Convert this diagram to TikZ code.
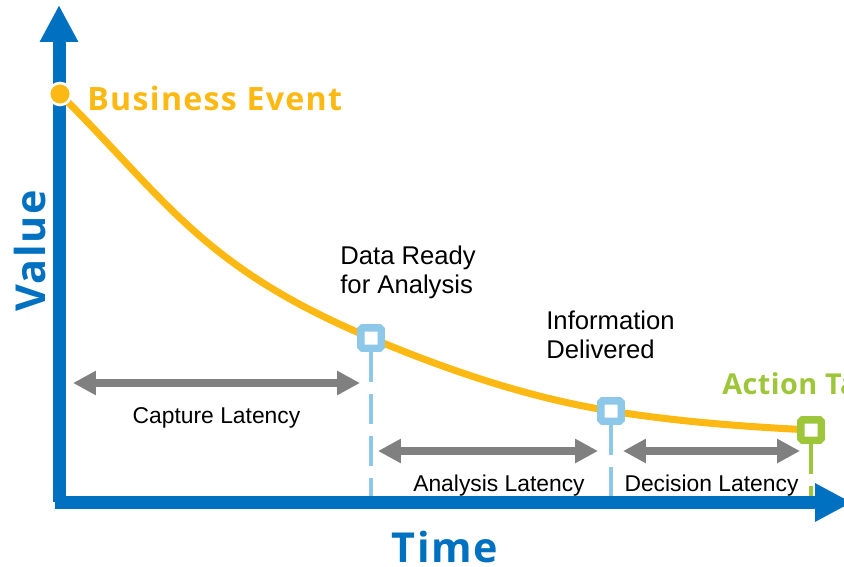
\documentclass[tikz,border=0pt]{standalone}
\usepackage{fontspec}
\setmainfont{Liberation Sans}
\newfontfamily\headfont{Open Sans}[LetterSpace=4]
\usetikzlibrary{arrows.meta}

\definecolor{axisblue}{RGB}{0,112,192}
\definecolor{valueorange}{RGB}{253,185,19}
\definecolor{stepblue}{RGB}{141,200,232}
\definecolor{stepgreen}{RGB}{157,198,58}
\definecolor{spangray}{RGB}{128,128,128}

\begin{document}
\begin{tikzpicture}[x=0.02cm,y=-0.02cm,
    axis/.style={axisblue,line width=7.4pt,-{Triangle[length=21pt,width=20.4pt]}},
    latency/.style={spangray,line width=4.5pt,
        {Triangle[length=13pt,width=13pt]}-{Triangle[length=13pt,width=13pt]}},
    stepbox/.style={draw=#1,fill=white,line width=4.2pt,minimum size=11.6pt,
        inner sep=0pt,rounded corners=1pt},
    dropline/.style={#1,line width=2.3pt,dash pattern=on 17pt off 6.8pt},
    spanlabel/.style={text=black,font=\fontsize{13}{15}\selectfont,below=11.5pt,inner sep=0pt},
    milestone/.style={font=\fontsize{14.6}{16.4}\selectfont,align=left,
        anchor=north west,inner sep=0pt},
    headline/.style={font=\headfont\bfseries\fontsize{#1}{#1}\selectfont,inner sep=0pt}]
    \useasboundingbox (0,0) rectangle (844,567);

    \coordinate (origin) at (59,502);
    \coordinate (top) at (59,5);
    \coordinate (right) at (852,502.5);
    \coordinate (event) at (60,94);
    \coordinate (ready) at (371,338);
    \coordinate (delivered) at (611,411);
    \coordinate (action) at (811,430);

    % drop lines from the milestones to the time axis
    \draw [dropline=stepblue]  ([yshift=-8pt]ready) -- (ready |- origin);
    \draw [dropline=stepblue]  ([yshift=-8pt]delivered) -- (delivered |- origin);
    \draw [dropline=stepgreen] ([yshift=-8pt]action) -- (action |- origin);

    % axes
    \draw [axis] (origin) -- (top);
    \draw [axis] ([xshift=-2.3pt]origin |- right) -- (right);

    % value curve
    \draw [valueorange,line width=4pt] (event)
        .. controls (168,202) and (203,267.4) .. (ready)
        .. controls (451,371.6) and (531,398.2) .. (delivered)
        .. controls (678,421.7) and (744,426.7) .. (action);

    \node [stepbox=stepblue]  (ready-box)     at (ready) {};
    \node [stepbox=stepblue]  (delivered-box) at (delivered) {};
    \node [stepbox=stepgreen] (action-box)    at (action) {};
    \node [circle,fill=valueorange,draw=white,line width=1.5pt,minimum size=12.5pt,
        inner sep=0pt] (event-dot) at (event) {};

    % latencies
    \coordinate (capture-l) at (73,383);   \coordinate (capture-r) at (360,383);
    \coordinate (analysis-l) at (378,451); \coordinate (analysis-r) at (598,451);
    \coordinate (decision-l) at (623,451); \coordinate (decision-r) at (800,451);
    \draw [latency] (capture-l) -- node [spanlabel] (capture-text) {Capture Latency} (capture-r);
    \draw [latency] (analysis-l) -- node [spanlabel,pos=0.55] (analysis-text) {Analysis Latency} (analysis-r);
    \draw [latency] (decision-l) -- node [spanlabel] (decision-text) {Decision Latency} (decision-r);

    % labels
    \node [milestone] (ready-text) at (340,246) {Data Ready\\for Analysis};
    \node [milestone] (delivered-text) at (546,311) {Information\\Delivered};
    \node [headline=18.3,valueorange,anchor=base west] (event-text) at (87,111) {Business Event};
    \node [headline=16.4,stepgreen,anchor=base west] (action-text) at (722,394)
        {\addfontfeature{LetterSpace=1.5}Action Taken};
    \node [headline=23.5,axisblue,anchor=base] (time-text) at (445,562) {Time};
    \node [headline=23.5,axisblue,anchor=base,rotate=90] (value-text) at (45,251) {Value};
\end{tikzpicture}
\end{document}
